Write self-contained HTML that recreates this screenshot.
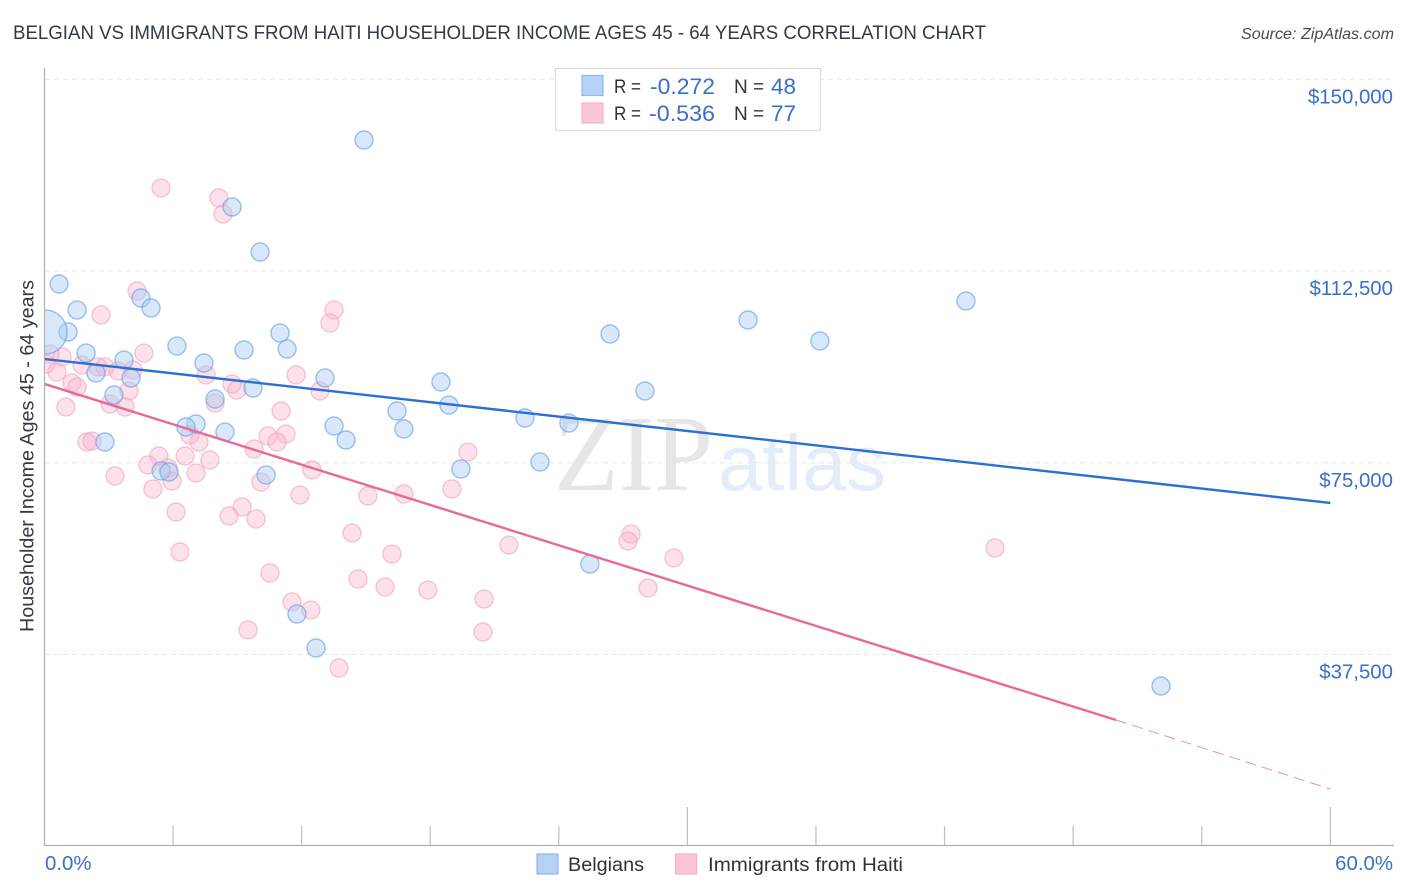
<!DOCTYPE html>
<html lang="en">
<head>
<meta charset="utf-8">
<title>Belgian vs Immigrants from Haiti Householder Income Correlation Chart</title>
<style>
html,body{margin:0;padding:0;background:#fff;width:1406px;height:892px;overflow:hidden}
svg{display:block}
text{font-family:"Liberation Sans",sans-serif}
</style>
</head>
<body>
<svg id="chart" width="1406" height="892" viewBox="0 0 1406 892" xmlns="http://www.w3.org/2000/svg">
  <defs>
    <clipPath id="plot-clip"><rect x="45" y="60" width="1349" height="786"/></clipPath>
  </defs>
  <rect width="1406" height="892" fill="#ffffff"/>
  <text x="13" y="39" font-size="19.5" fill="#333a42" textLength="973" lengthAdjust="spacingAndGlyphs">BELGIAN VS IMMIGRANTS FROM HAITI HOUSEHOLDER INCOME AGES 45 - 64 YEARS CORRELATION CHART</text>
  <text x="1394" y="39" font-size="16" font-style="italic" fill="#444b52" text-anchor="end" textLength="153" lengthAdjust="spacingAndGlyphs">Source: ZipAtlas.com</text>
  <g id="watermark">
    <text x="554" y="490" font-size="108" fill="#e6e6e8" style="font-family:'Liberation Serif',serif" textLength="159" lengthAdjust="spacingAndGlyphs">ZIP</text>
    <text x="718" y="490" font-size="79" fill="#e3ecf9" textLength="168" lengthAdjust="spacingAndGlyphs">atlas</text>
  </g>
  <g id="grid"></g>
  <g id="axes"></g>
  <g id="marks" clip-path="url(#plot-clip)"></g>
  <g id="trends" clip-path="url(#plot-clip)"></g>
  <text transform="translate(33.5,456) rotate(-90)" font-size="19.7" fill="#333a42" text-anchor="middle" textLength="352" lengthAdjust="spacingAndGlyphs">Householder Income Ages 45 - 64 years</text>
  <g>
    <rect x="555.5" y="68.5" width="265" height="62" fill="#ffffff" stroke="#dcdcdc" stroke-width="1.2"/>
    <rect x="582" y="75.5" width="21" height="20" fill="#b5d2f6" stroke="#8fb8ea" stroke-width="1.2"/>
    <rect x="582" y="103" width="21" height="20" fill="#fcc6d8" stroke="#f5b0c8" stroke-width="1.2"/>
    <text x="614" y="93" font-size="19" fill="#2f3338" textLength="27" lengthAdjust="spacingAndGlyphs">R =</text>
    <text x="650" y="94" font-size="22" fill="#3a6fc8" textLength="65" lengthAdjust="spacingAndGlyphs">-0.272</text>
    <text x="734" y="93" font-size="19" fill="#2f3338">N =</text>
    <text x="771" y="94" font-size="22" fill="#3a6fc8" textLength="25" lengthAdjust="spacingAndGlyphs">48</text>
    <text x="614" y="120" font-size="19" fill="#2f3338" textLength="27" lengthAdjust="spacingAndGlyphs">R =</text>
    <text x="649" y="121" font-size="22" fill="#3a6fc8" textLength="66" lengthAdjust="spacingAndGlyphs">-0.536</text>
    <text x="734" y="120" font-size="19" fill="#2f3338">N =</text>
    <text x="771" y="121" font-size="22" fill="#3a6fc8" textLength="25" lengthAdjust="spacingAndGlyphs">77</text>
  </g>
  <g>
    <rect x="537" y="854" width="21" height="20" fill="#b5d2f6" stroke="#8fb8ea" stroke-width="1.2"/>
    <text x="568" y="871" font-size="19" fill="#2f3338" textLength="76" lengthAdjust="spacingAndGlyphs">Belgians</text>
    <rect x="675.5" y="854" width="21" height="20" fill="#fcc6d8" stroke="#f5b0c8" stroke-width="1.2"/>
    <text x="708" y="871" font-size="19" fill="#2f3338" textLength="195" lengthAdjust="spacingAndGlyphs">Immigrants from Haiti</text>
  </g>
</svg>
<script>
// Chart data (x = percent, y = thousand dollars)
const belgianX = [14.91,8.75,10.06,0.68,1.52,4.50,4.97,43.0,32.83,1.10,10.99,26.39,36.18,6.18,9.31,11.32,1.94,3.71,7.44,2.40,4.04,13.09,9.73,18.50,28.02,3.24,7.96,18.87,16.45,22.42,24.47,13.51,16.77,7.07,6.60,8.42,14.07,2.82,19.43,23.12,5.44,5.81,10.34,25.45,11.78,12.67,52.10,0.02];
const belgianY = [138.12,125.02,116.22,109.96,104.87,107.22,105.27,106.63,102.92,100.57,100.38,100.18,98.81,97.83,97.05,97.25,96.46,95.09,94.51,92.55,91.58,91.58,89.62,90.79,89.03,88.25,87.47,86.29,85.12,83.75,82.77,82.19,81.60,82.58,81.99,81.01,79.45,79.06,73.78,75.15,73.39,73.19,72.60,55.20,45.42,38.77,31.34,100.57];
const belgianWeight = [1,1,1,1,1,1,1,1,1,1,1,1,1,1,1,1,1,1,1,1,1,1,1,1,1,1,1,1,1,1,1,1,1,1,1,1,1,1,1,1,1,1,1,1,1,1,1,6];
const haitiX = [5.44,8.14,8.33,4.32,13.51,2.64,13.32,4.64,0.82,0.26,0.07,0.58,1.75,2.50,2.82,3.43,4.13,7.54,11.74,1.28,1.52,3.94,8.75,8.98,12.85,3.06,3.76,7.96,1.00,11.04,1.98,2.22,10.43,11.27,10.85,6.79,7.21,19.76,9.78,5.34,6.56,4.83,7.72,5.76,12.48,5.95,7.07,3.29,10.10,5.06,11.92,15.09,16.77,19.01,9.22,6.14,8.61,9.87,14.35,21.67,27.37,27.23,6.32,16.21,29.37,44.35,10.52,14.63,15.89,17.89,28.16,20.51,11.55,12.43,9.50,20.46,13.74];
const haitiY = [128.73,126.78,123.65,108.59,104.87,103.90,102.33,96.46,95.68,96.27,94.31,92.75,94.12,93.73,93.73,92.94,93.14,92.16,92.16,90.60,89.81,89.03,90.40,89.23,89.03,86.49,85.90,86.69,85.90,85.12,79.06,79.25,80.23,80.62,79.06,80.43,79.06,77.10,77.69,76.32,76.32,74.56,75.54,73.97,73.58,71.43,73.00,72.41,71.24,69.87,68.69,68.50,68.89,69.87,66.35,65.37,64.59,64.00,61.26,58.91,61.07,59.70,57.55,57.15,56.37,58.33,53.44,52.27,50.70,50.11,50.51,48.35,47.77,46.20,42.29,41.90,34.86];
const belgianTrendX = [0,60];
const belgianTrendY = [95.29,67.13];
const haitiTrendX = [0,50];
const haitiTrendY = [90.40,24.69];
const haitiTrendDashX = [50,60];
const haitiTrendDashY = [24.69,11.20];
const yTicks = [150,112.5,75,37.5];
const yTickLabels = ['$150,000','$112,500','$75,000','$37,500'];
const xTicks = [6,12,18,24,30,36,42,48,54,60];
const xMajorTicks = [30,60];
const xEndLabels = ['0.0%','60.0%'];

const NS = 'http://www.w3.org/2000/svg';
function xScale(v){ return 44.5 + v * 21.43; }
function yScale(v){ return 654.5 - (v - 37.5) * 5.1133; }
function make(tag, attrs, parent){
  const el = document.createElementNS(NS, tag);
  for (const k in attrs) el.setAttribute(k, attrs[k]);
  parent.appendChild(el);
  return el;
}
const grid = document.getElementById('grid');
const axes = document.getElementById('axes');
const marks = document.getElementById('marks');
const trends = document.getElementById('trends');

yTicks.forEach(function(v, i){
  const line = make('line', {x1:45, x2:1393, y1:yScale(v), y2:yScale(v), stroke:'#e6e6e6', 'stroke-width':1, 'stroke-dasharray':'5 4'}, grid);
  
  
  const label = make('text', {x:1393, y:yScale(v)+24, 'font-size':20.4, fill:'#3a6fc8', 'text-anchor':'end'}, axes);
  label.textContent = yTickLabels[i];
  
  
});

const yAxis = make('line', {x1:44.5, x2:44.5, y1:68, y2:846, stroke:'#b0b0b0', 'stroke-width':1.2}, axes);


const xAxis = make('line', {x1:44, x2:1394, y1:845.5, y2:845.5, stroke:'#b0b0b0', 'stroke-width':1.2}, axes);



xTicks.forEach(function(v){
  const top = xMajorTicks.indexOf(v) >= 0 ? 807 : 826;
  const tick = make('line', {x1:xScale(v), x2:xScale(v), y1:top, y2:845, stroke:'#bdbdbd', 'stroke-width':1.2}, axes);
  
  
});

const xStart = make('text', {x:45, y:870, 'font-size':20.4, fill:'#3a6fc8'}, axes);
xStart.textContent = xEndLabels[0];


const xEnd = make('text', {x:1393, y:870, 'font-size':20.4, fill:'#3a6fc8', 'text-anchor':'end'}, axes);
xEnd.textContent = xEndLabels[1];



haitiX.forEach(function(v, i){
  const dot = make('circle', {cx:xScale(v), cy:yScale(haitiY[i]), r:9, fill:'#f9b6cc', 'fill-opacity':0.42, stroke:'#f0a4bd', 'stroke-opacity':0.6, 'stroke-width':1.4}, marks);
  
  
});
belgianX.forEach(function(v, i){
  const dot = make('circle', {cx:xScale(v), cy:yScale(belgianY[i]), r:9*Math.sqrt(belgianWeight[i]), fill:'#a9ccf4', 'fill-opacity':0.45, stroke:'#6ba2e2', 'stroke-opacity':0.65, 'stroke-width':1.4}, marks);
  
  
});

const blueLine = make('line', {x1:xScale(belgianTrendX[0]), y1:yScale(belgianTrendY[0]), x2:xScale(belgianTrendX[1]), y2:yScale(belgianTrendY[1]), stroke:'#2b6fd2', 'stroke-width':2.4}, trends);


const pinkLine = make('line', {x1:xScale(haitiTrendX[0]), y1:yScale(haitiTrendY[0]), x2:xScale(haitiTrendX[1]), y2:yScale(haitiTrendY[1]), stroke:'#e8689a', 'stroke-width':2.4}, trends);


const pinkDash = make('line', {x1:xScale(haitiTrendDashX[0]), y1:yScale(haitiTrendDashY[0]), x2:xScale(haitiTrendDashX[1]), y2:yScale(haitiTrendDashY[1]), stroke:'#ee8cb0', 'stroke-width':1, 'stroke-dasharray':'11 6'}, trends);


</script>
</body>
</html>
